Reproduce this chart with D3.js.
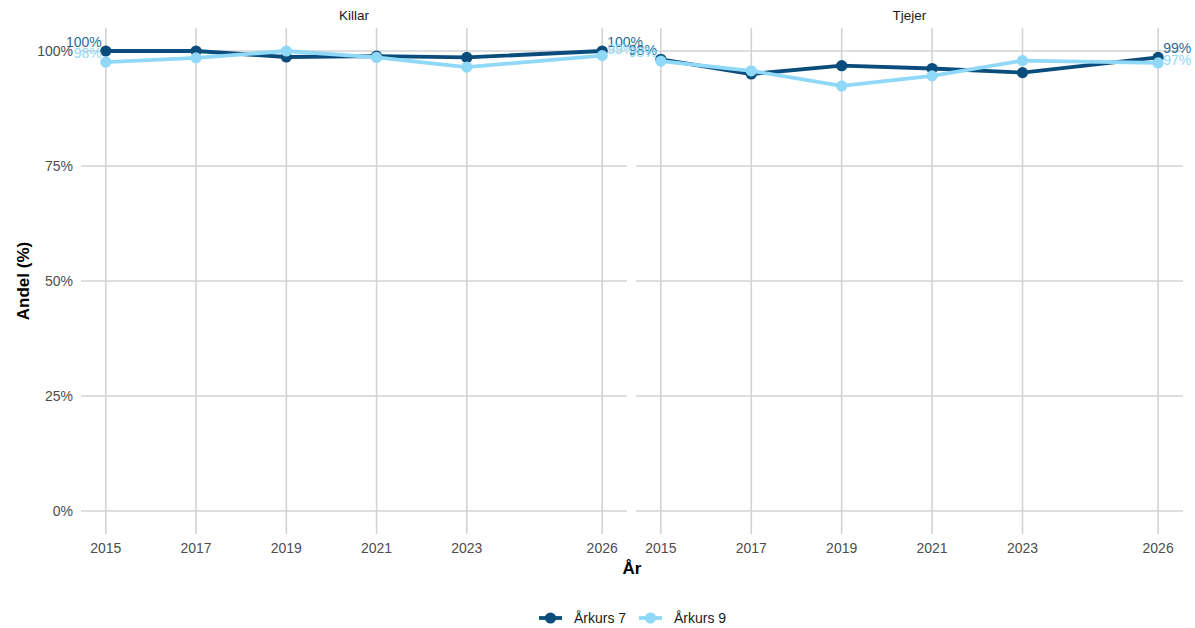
<!DOCTYPE html>
<html><head><meta charset="utf-8">
<script src="https://cdn.jsdelivr.net/npm/d3@7"></script>
<style>body{margin:0;background:#fff;}svg{display:block;font-family:"Liberation Sans",Arial,sans-serif;}</style>
</head><body><svg id="c" width="1195" height="628"></svg>
<script>
const years = [2015, 2017, 2019, 2021, 2023, 2026];
const panels = ["Killar", "Tjejer"];
const seriesNames = ["Årkurs 7", "Årkurs 9"];
const killar7 = [100, 100, 98.7, 98.9, 98.6, 100];
const killar9 = [97.6, 98.5, 100, 98.6, 96.5, 99];
const tjejer7 = [98.2, 95.0, 96.8, 96.2, 95.3, 98.6];
const tjejer9 = [97.8, 95.7, 92.4, 94.6, 97.9, 97.4];
const yTicks = [0, 25, 50, 75, 100];
const colors = ["#0a4d7c", "#8fd8f8"];
const labelColors = ["#2a6b96", "#8fd8f8"];

const data = {
  "Killar": [killar7, killar9],
  "Tjejer": [tjejer7, tjejer9]
};
// label vertical placement (pixel y of text centre) relative to nearby point, like repelled labels
const startDy = {"Killar": [-9, -9], "Tjejer": [-9, -9]};
const endDy = {"Killar": [-9, -7], "Tjejer": [-9, -3]};

const svg = d3.select("#c");
const panelX = [[81, 627], [636, 1183]];
const y = d3.scaleLinear().domain([-5, 105]).range([534, 28]);
const grid = "#d3d3d3";

panels.forEach((p, pi) => {
  const x = d3.scaleLinear().domain([2015 - 0.55, 2026 + 0.55]).range(panelX[pi]);
  const g = svg.append("g");
  g.selectAll(".hg").data(yTicks).join("line")
    .attr("x1", panelX[pi][0]).attr("x2", panelX[pi][1])
    .attr("y1", d => y(d)).attr("y2", d => y(d))
    .attr("stroke", grid).attr("stroke-width", 1.6);
  g.selectAll(".vg").data(years).join("line")
    .attr("x1", d => x(d)).attr("x2", d => x(d))
    .attr("y1", 28).attr("y2", 534)
    .attr("stroke", grid).attr("stroke-width", 1.6);
  g.append("text").attr("x", (panelX[pi][0] + panelX[pi][1]) / 2).attr("y", 20)
    .attr("text-anchor", "middle").attr("font-size", 13.5).attr("fill", "#1a1a1a").text(p);
  g.selectAll(".xl").data(years).join("text")
    .attr("x", d => x(d)).attr("y", 553).attr("text-anchor", "middle")
    .attr("font-size", 14).attr("fill", "#4d4d4d").text(d => d);
  data[p].forEach((vals, si) => {
    const pts = years.map((yr, i) => [yr, vals[i]]);
    g.append("path").datum(pts)
      .attr("d", d3.line().x(d => x(d[0])).y(d => y(d[1])))
      .attr("fill", "none").attr("stroke", colors[si]).attr("stroke-width", 3.8)
      .attr("stroke-linejoin", "round");
    g.selectAll(null).data(pts).join("circle")
      .attr("cx", d => x(d[0])).attr("cy", d => y(d[1])).attr("r", 5.6)
      .attr("fill", colors[si]);
  });
  data[p].forEach((vals, si) => {
    const n = vals.length - 1;
    g.append("text").attr("x", x(years[0]) - 4).attr("y", y(vals[0]) + startDy[p][si] + 5)
      .attr("text-anchor", "end").attr("font-size", 14).attr("fill", labelColors[si])
      .text(Math.round(vals[0]) + "%");
    g.append("text").attr("x", x(years[n]) + 5).attr("y", y(vals[n]) + endDy[p][si] + 5)
      .attr("text-anchor", "start").attr("font-size", 14).attr("fill", labelColors[si])
      .text(Math.round(vals[n]) + "%");
  });
});

svg.selectAll(".yl").data(yTicks).join("text")
  .attr("x", 73).attr("y", d => y(d) + 5).attr("text-anchor", "end")
  .attr("font-size", 14).attr("fill", "#4d4d4d").text(d => d + "%");

svg.append("text").attr("transform", "translate(29,281) rotate(-90)")
  .attr("text-anchor", "middle").attr("font-size", 17).attr("font-weight", "bold")
  .attr("fill", "#000").text("Andel (%)");
svg.append("text").attr("x", 632).attr("y", 574).attr("text-anchor", "middle")
  .attr("font-size", 17).attr("font-weight", "bold").attr("fill", "#000").text("År");

const lg = svg.append("g");
const legX = [539, 639];
seriesNames.forEach((s, i) => {
  lg.append("line").attr("x1", legX[i]).attr("x2", legX[i] + 23).attr("y1", 618).attr("y2", 618)
    .attr("stroke", colors[i]).attr("stroke-width", 3.8);
  lg.append("circle").attr("cx", legX[i] + 11.5).attr("cy", 618).attr("r", 5.6).attr("fill", colors[i]);
  lg.append("text").attr("x", legX[i] + 35).attr("y", 623).attr("font-size", 14)
    .attr("fill", "#1a1a1a").text(s);
});
</script></body></html>
